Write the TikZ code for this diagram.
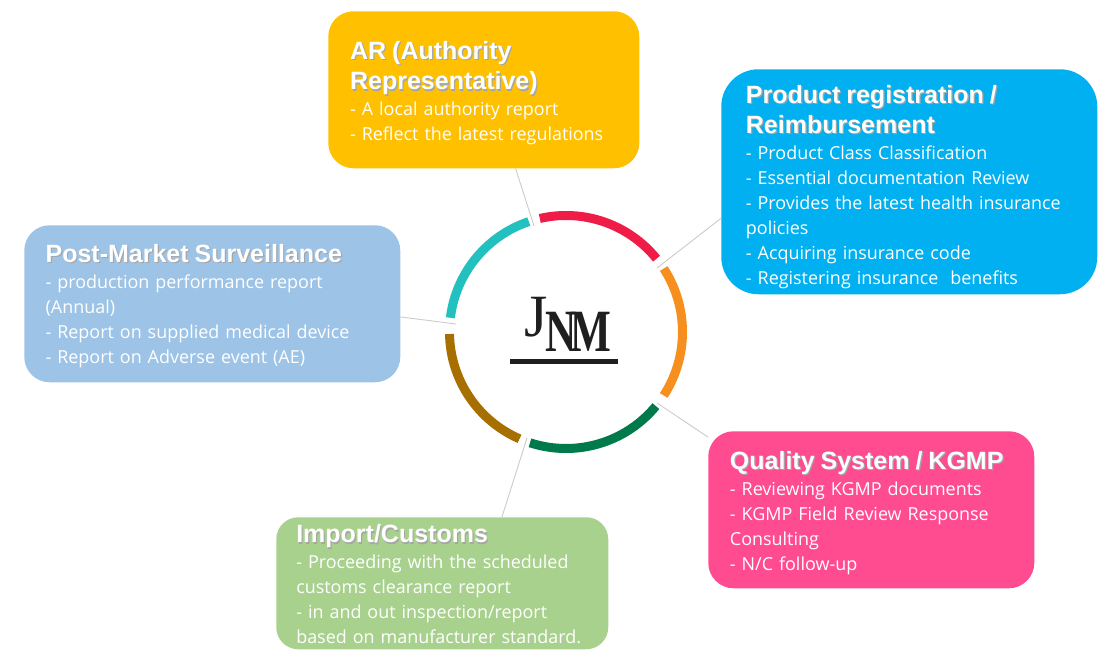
\documentclass[tikz,border=0pt]{standalone}
\usepackage{fontspec, graphicx, xcolor}
\setmainfont{Open Sans}
\newfontfamily\headfont{Liberation Sans}[BoldFont={Liberation Sans Bold}]
\newfontfamily\logofont{Liberation Serif}[BoldFont={Liberation Serif Bold}]
\usetikzlibrary{calc}
\definecolor{ARyellow}{HTML}{FFC000}
\definecolor{PRblue}{HTML}{00B0F0}
\definecolor{PMSblue}{HTML}{9DC3E6}
\definecolor{QSpink}{HTML}{FF4B8F}
\definecolor{ICgreen}{HTML}{A9D18E}
\definecolor{ringred}{HTML}{EE1C47}
\definecolor{ringorange}{HTML}{F78F1E}
\definecolor{ringgreen}{HTML}{007A4B}
\definecolor{ringbrown}{HTML}{A66F00}
\definecolor{ringteal}{HTML}{22C1C0}
\newcommand{\boxhead}[1]{{\headfont\bfseries\fontsize{18.75pt}{22pt}\selectfont\leavevmode\rlap{\kern.9pt\raisebox{-.9pt}{\textcolor{black!35}{#1}}}#1}}
\newcommand{\boxnudge}[1]{\par\vspace{-#1}}
\tikzset{
  infobox/.style = {rounded corners = 19pt, text = white, align = left, inner ysep = 0pt,
    font = \fontsize{13.45pt}{18.75pt}\selectfont, anchor = north west},
  ringarc/.style = {line width = 6.75pt},
  spoke/.style = {draw = black!20, line width = .7pt}
}

\begin{document}
\begin{tikzpicture}[x = .75pt, y = .75pt]
\useasboundingbox (0,0) rectangle (1107,661);
\coordinate (ring) at (566,329);
\foreach \ringcolor/\ringstart/\ringend in {ringred/103/39, ringorange/33/-33, ringgreen/-39.5/-108, ringbrown/-113.5/-179, ringteal/173/108.6}
  \draw[ringarc, \ringcolor] ($(ring)+(\ringstart:116.5)$) arc[start angle = \ringstart, end angle = \ringend, radius = 116.5];
\node[infobox, fill = ARyellow, minimum width = 233.25pt, minimum height = 117.75pt, text width = 200.5pt, inner xsep = 16pt] (AR) at (328,650)
  {\boxhead{AR (Authority}\\[4pt]\boxhead{Representative)}\\[.5pt]- A local authority report\\- Reflect the latest regulations\boxnudge{5pt}};
\node[infobox, fill = PRblue, rounded corners = 28pt, minimum width = 282pt, minimum height = 168.75pt, text width = 245pt, inner xsep = 18.5pt] (PR) at (721,592)
  {\boxhead{Product registration /}\\[4pt]\boxhead{Reimbursement}\\[.5pt]- Product Class Classification\\- Essential documentation Review\\- Provides the latest health insurance\\policies\\- Acquiring insurance code\\- Registering insurance\ \ benefits\boxnudge{7.5pt}};
\node[infobox, fill = PMSblue, minimum width = 282pt, minimum height = 117.75pt, text width = 250pt, inner xsep = 16pt] (PMS) at (24,436)
  {\boxhead{Post-Market Surveillance}\\[.5pt]- production performance report\\(Annual)\\- Report on supplied medical device\\- Report on Adverse event (AE)\boxnudge{3pt}};
\node[infobox, fill = QSpink, minimum width = 244.5pt, minimum height = 117.75pt, text width = 212pt, inner xsep = 16pt] (QS) at (708,230)
  {\boxhead{Quality System / KGMP}\\[1pt]- Reviewing KGMP documents\\- KGMP Field Review Response\\Consulting\\- N/C follow-up\boxnudge{4.5pt}};
\node[infobox, fill = ICgreen, rounded corners = 16.5pt, minimum width = 249pt, minimum height = 99pt, text width = 219pt, inner xsep = 15pt] (IC) at (276,144)
  {\boxhead{Import/Customs}\\[.5pt]- Proceeding with the scheduled\\customs clearance report\\- in and out inspection/report\\based on manufacturer standard.\boxnudge{1.5pt}};
\coordinate (ARend) at (534,435);
\coordinate (PRend) at (657,393);
\coordinate (PMSend) at (456,337);
\coordinate (QSend) at (657,258);
\coordinate (ICend) at (527,223);
\draw[spoke] (AR.-68) -- (ARend);
\draw[spoke] (PR.191.7) -- (PRend);
\draw[spoke] (PMS.-4) -- (PMSend);
\draw[spoke] (QS.156.5) -- (QSend);
\draw[spoke] (IC.48.6) -- (ICend);
\node[anchor = base west, inner sep = 0pt, text = black!88] (logo) at (524.5,309)
  {\logofont\fontsize{45pt}{45pt}\selectfont\raisebox{11.25pt}{J}\kern-2pt\scalebox{.72}[1]{\bfseries N\kern-6.8pt M}};
\draw[line width = 3.4pt, black!88] (510,299.3) -- (618,299.3);
\end{tikzpicture}
\end{document}
